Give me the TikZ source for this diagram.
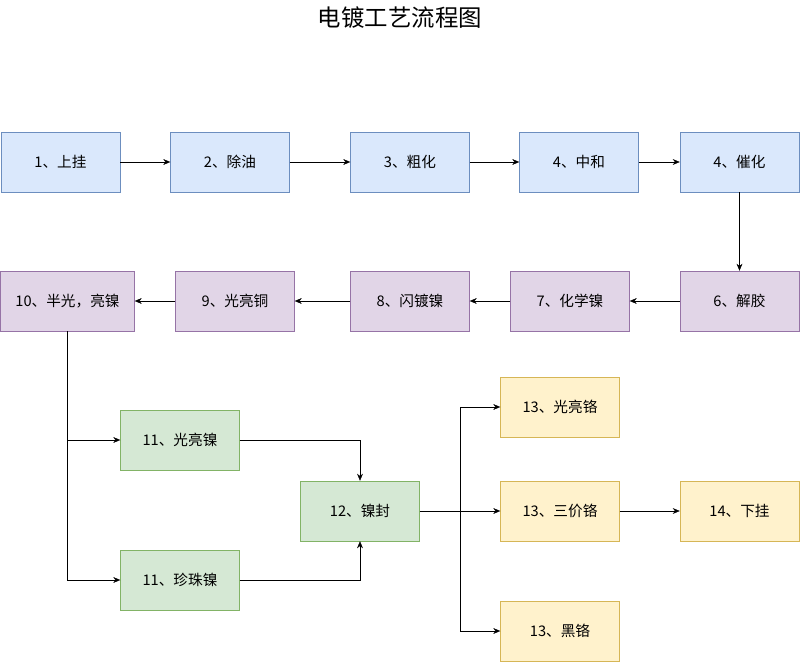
\documentclass[tikz,border=0pt]{standalone}
\usepackage{fontspec}
\setmainfont{Noto Sans CJK SC}
\usepackage{tikz}
\usetikzlibrary{arrows.meta}

\begin{document}
\begin{tikzpicture}[x=0.03cm, y=-0.03cm,
	box/.style={shape=rectangle, draw=#1, minimum width=119*0.03cm, minimum height=60*0.03cm, inner sep=0pt, font=\fontsize{12.5}{14}\selectfont},
	blue/.style={box=blueline, fill=bluefill},
	purple/.style={box=purpleline, fill=purplefill},
	green/.style={box=greenline, fill=greenfill},
	yellow/.style={box=yellowline, fill=yellowfill},
	arr/.style={-{Stealth[length=6pt,width=5pt]}, thin}]
	
	\definecolor{bluefill}{HTML}{DAE8FC}\definecolor{blueline}{HTML}{6C8EBF}
	\definecolor{purplefill}{HTML}{E1D5E7}\definecolor{purpleline}{HTML}{9673A6}
	\definecolor{greenfill}{HTML}{D5E8D4}\definecolor{greenline}{HTML}{82B366}
	\definecolor{yellowfill}{HTML}{FFF2CC}\definecolor{yellowline}{HTML}{D6B656}
	
	\useasboundingbox (0,0) rectangle (800,662);
	\node[font=\fontsize{20}{24}\selectfont] (title) at (400, 18) {电镀工艺流程图};
	
	\node[blue] (s1) at (60.5, 162)     {1、上挂};
	\node[blue] (s2) at (230, 162)     {2、除油};
	\node[blue] (s3) at (410, 162)     {3、粗化};
	\node[blue] (s4) at (579, 162)     {4、中和};
	\node[blue] (s5) at (739.5, 162)     {4、催化};
	
	\node[purple, minimum width=134*0.03cm] (s10) at (67.5, 301)     {10、半光，亮镍};
	\node[purple] (s9) at (235, 301)     {9、光亮铜};
	\node[purple] (s8) at (410, 301)     {8、闪镀镍};
	\node[purple] (s7) at (570, 301)     {7、化学镍};
	\node[purple] (s6) at (739.5, 301)     {6、解胶};
	
	\node[green] (s11a) at (180, 440)     {11、光亮镍};
	\node[green] (s11b) at (180, 580)     {11、珍珠镍};
	\node[green] (s12) at (360, 511)     {12、镍封};
	
	\node[yellow] (s13a) at (560, 407)     {13、光亮铬};
	\node[yellow] (s13b) at (560, 511)     {13、三价铬};
	\node[yellow] (s13c) at (560, 631)     {13、黑铬};
	\node[yellow] (s14) at (739.5, 511)     {14、下挂};
	
	\coordinate (split) at (460, 511);
	
	\draw[arr] (s1) -- (s2);
	\draw[arr] (s2) -- (s3);
	\draw[arr] (s3) -- (s4);
	\draw[arr] (s4) -- (s5);
	\draw[arr] (s5) -- (s6);
	
	\draw[arr] (s6) -- (s7);
	\draw[arr] (s7) -- (s8);
	\draw[arr] (s8) -- (s9);
	\draw[arr] (s9) -- (s10);
	
	\draw[arr] (s10) |- (s11a);
	\draw[arr] (s10) |- (s11b);
	\draw[arr] (s11a) -| (s12);
	\draw[arr] (s11b) -| (s12);
	
	\draw[arr] (s12) -- (s13b);
	\draw[arr] (split) |- (s13a);
	\draw[arr] (split) |- (s13c);
	\draw[arr] (s13b) -- (s14);
	
\end{tikzpicture}
\end{document}
